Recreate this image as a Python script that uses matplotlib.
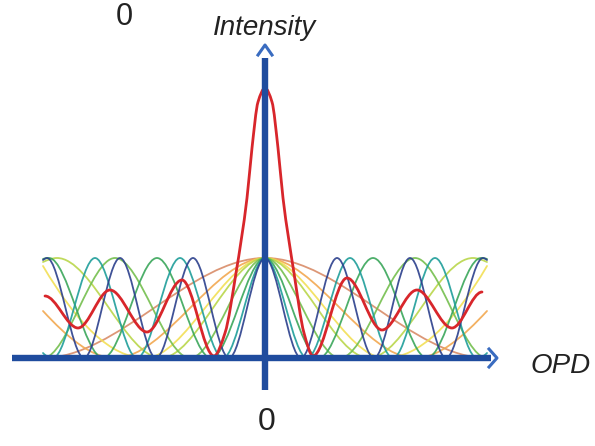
import matplotlib
matplotlib.use("Agg")
import matplotlib.pyplot as plt
import numpy as np
from matplotlib.path import Path
from matplotlib.patches import PathPatch

# Knots: OPD in px from the zero line, intensity in px above the OPD axis.
# Components are symmetric, so only the OPD >= 0 half is listed and mirrored below.
COMPONENT_NAMES = ["navy", "teal", "green", "light green", "yellow green", "yellow", "orange", "tan"]
COMPONENT_COLORS = ["#2b3f8c", "#1f9e9a", "#3aa65a", "#74bf4e", "#b9d64a", "#f2df55", "#f2a850", "#d98c68"]
NAVY_X = [0, 36, 72, 109, 145, 181, 218, 222]
NAVY_H = [100, 0, 100, 0, 100, 0, 100, 98]
TEAL_X = [0, 42, 85, 128, 170, 212, 222]
TEAL_H = [100, 0, 100, 0, 100, 0, 5]
GREEN_X = [0, 54, 108, 162, 216, 222]
GREEN_H = [100, 0, 100, 0, 100, 99]
LIGHT_GREEN_X = [0, 75, 150, 222]
LIGHT_GREEN_H = [100, 0, 100, 0]
YELLOW_GREEN_X = [0, 104, 208, 222]
YELLOW_GREEN_H = [100, 0, 100, 96]
YELLOW_X = [0, 120, 222]
YELLOW_H = [100, 0, 92]
ORANGE_X = [0, 150, 222]
ORANGE_H = [100, 0, 47]
TAN_X = [0, 222]
TAN_H = [100, 0]

# the red sum curve (interferogram), read point by point
RED_X = [-220, -187, -155, -118, -83, -51, -40, -29, -18, -13, -7, 0,
         7, 13, 18, 29, 39, 48, 82, 117, 152, 187, 217]
RED_H = [62, 30, 68, 26, 78, 2, 25, 85, 160, 210, 256, 270,
         256, 210, 160, 85, 25, 2, 80, 28, 68, 30, 66]

AXIS_BLUE = "#1f4c9e"
ARROW_BLUE = "#3a6cc0"
TEXT_COLOR = "#222222"


def mirror(xs, hs):
    x = [-v for v in reversed(xs[1:])] + list(xs)
    h = list(reversed(hs[1:])) + list(hs)
    return np.asarray(x, float), np.asarray(h, float)


def pchip_slopes(x, y, flat_ends=False):
    dx = np.diff(x)
    delta = np.diff(y) / dx
    d = np.zeros_like(y)
    for k in range(1, len(x) - 1):
        if delta[k - 1] * delta[k] <= 0:
            continue
        w1 = 2 * dx[k] + dx[k - 1]
        w2 = dx[k] + 2 * dx[k - 1]
        d[k] = (w1 + w2) / (w1 / delta[k - 1] + w2 / delta[k])
    if flat_ends or len(x) < 3:
        return d
    lo, hi = y.min(), y.max()
    for end, (h0, h1, d0, d1) in {0: (dx[0], dx[1], delta[0], delta[1]),
                                  -1: (dx[-1], dx[-2], -delta[-1], -delta[-2])}.items():
        if y[end] in (lo, hi):
            continue
        s = ((2 * h0 + h1) * d0 - h0 * d1) / (h0 + h1)
        if np.sign(s) != np.sign(d0):
            s = 0.0
        elif np.sign(d0) != np.sign(d1) and abs(s) > 3 * abs(d0):
            s = 3 * d0
        d[end] = s if end == 0 else -s
    return d


def smooth_curve(ax, x, y, color, lw, alpha=1.0, flat_ends=False, zorder=2):
    d = pchip_slopes(x, y, flat_ends)
    verts = [(x[0], y[0])]
    for i in range(len(x) - 1):
        step = (x[i + 1] - x[i]) / 3.0
        verts += [(x[i] + step, y[i] + d[i] * step),
                  (x[i + 1] - step, y[i + 1] - d[i + 1] * step),
                  (x[i + 1], y[i + 1])]
    codes = [Path.MOVETO] + [Path.CURVE4] * (len(verts) - 1)
    ax.add_patch(PathPatch(Path(verts, codes), fill=False, edgecolor=color, lw=lw,
                           alpha=alpha, capstyle="round", joinstyle="round", zorder=zorder))


plt.rcParams["font.family"] = ["Liberation Sans", "DejaVu Sans"]

fig = plt.figure(figsize=(5.95, 4.46), dpi=100)
ax = fig.add_axes([0, 0, 1, 1])
ax.set_xlim(-265, 330)
ax.set_ylim(-88, 358)
ax.axis("off")

components = [
    (TAN_X, TAN_H, COMPONENT_COLORS[7]),
    (ORANGE_X, ORANGE_H, COMPONENT_COLORS[6]),
    (YELLOW_X, YELLOW_H, COMPONENT_COLORS[5]),
    (YELLOW_GREEN_X, YELLOW_GREEN_H, COMPONENT_COLORS[4]),
    (LIGHT_GREEN_X, LIGHT_GREEN_H, COMPONENT_COLORS[3]),
    (GREEN_X, GREEN_H, COMPONENT_COLORS[2]),
    (TEAL_X, TEAL_H, COMPONENT_COLORS[1]),
    (NAVY_X, NAVY_H, COMPONENT_COLORS[0]),
]
for xs, hs, color in components:
    x, h = mirror(xs, hs)
    smooth_curve(ax, x, h, color, lw=1.3, alpha=0.9)

smooth_curve(ax, np.asarray(RED_X, float), np.asarray(RED_H, float), "#d8262b", lw=2.0,
             flat_ends=True, zorder=3)

# axes drawn as arrows
ax.plot([-253, 226], [0, 0], color=AXIS_BLUE, lw=4.6, solid_capstyle="butt", zorder=4)
ax.plot([224, 232, 224], [9, 0, -9], color=ARROW_BLUE, lw=2.2, zorder=5)
ax.plot([0, 0], [-32, 300], color=AXIS_BLUE, lw=4.6, solid_capstyle="butt", zorder=4)
ax.plot([-7, 0, 7], [303, 313, 303], color=ARROW_BLUE, lw=2.2, zorder=5)

ax.text(-141, 333, "0", fontsize=22, ha="center", va="baseline", color=TEXT_COLOR)
ax.text(0, 323, "Intensity", fontsize=20, style="italic", ha="center", va="baseline", color=TEXT_COLOR)
ax.text(266, -15, "OPD", fontsize=20, style="italic", ha="left", va="baseline", color=TEXT_COLOR)
ax.text(2, -72, "0", fontsize=23, ha="center", va="baseline", color=TEXT_COLOR)

fig.savefig("out.png", dpi=100)
